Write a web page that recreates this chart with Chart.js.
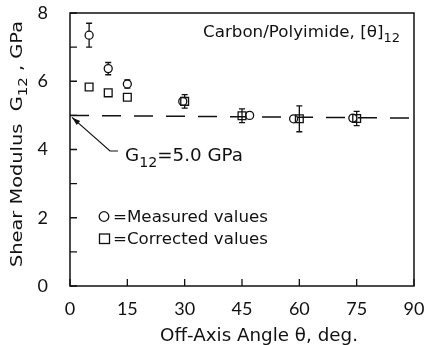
<!DOCTYPE html>
<html>
<head>
<meta charset="utf-8">
<script src="https://cdn.jsdelivr.net/npm/chart.js@4.4.1/dist/chart.umd.min.js"></script>
<style>
  html, body { margin: 0; padding: 0; background: #fff; }
  #wrap { width: 425px; height: 345px; }
</style>
</head>
<body>
<div id="wrap"><canvas id="shearChart"></canvas></div>
<script>
// data
var angleMeasured = [5, 10, 15, 29.5, 47, 58.5, 74];
var modulusMeasured = [7.35, 6.37, 5.92, 5.41, 5.0, 4.9, 4.92];
var errMeasured = [0.35, 0.18, 0.12, 0, 0, 0, 0];

var angleCorrected = [5, 10, 15, 30, 45, 60, 75];
var modulusCorrected = [5.83, 5.66, 5.53, 5.41, 4.99, 4.9, 4.91];
var errCorrected = [0, 0, 0, 0.2, 0.2, 0.38, 0.21];

var refAngles = [0, 90];
var refModulus = [5.0, 4.92];

var xTicks = [0, 15, 30, 45, 60, 75, 90];
var yTicks = [0, 1, 2, 3, 4, 5, 6, 7, 8];

var fontFam = 'Lato, "DejaVu Sans", sans-serif';
var noteFam = '"DejaVu Sans", sans-serif';
var ink = '#111';

function pts(xs, ys) {
    return xs.map(function (x, i) { return { x: x, y: ys[i] }; });
}

function runsWidth(ctx, runs, size) {
    var w = 0;
    runs.forEach(function (r) {
        ctx.font = (r.sub ? size * 0.78 : size) + 'px ' + noteFam;
        w += ctx.measureText(r.t).width;
    });
    return w;
}
// draws text pieces (some as subscripts), stretched to the width seen in the figure
function drawRuns(ctx, x, y, runs, size, targetW) {
    var sx = targetW ? targetW / runsWidth(ctx, runs, size) : 1;
    ctx.save();
    ctx.translate(x, y);
    ctx.scale(sx, 1);
    var cx = 0;
    runs.forEach(function (r) {
        var fs = r.sub ? size * 0.78 : size;
        ctx.font = fs + 'px ' + noteFam;
        ctx.fillText(r.t, cx, r.sub ? size * 0.33 : 0);
        cx += ctx.measureText(r.t).width;
    });
    ctx.restore();
}

var errorBars = {
    id: 'errorBars',
    beforeDatasetsDraw: function (chart) {
        var ctx = chart.ctx, xs = chart.scales.x, ys = chart.scales.y;
        ctx.save();
        ctx.strokeStyle = ink;
        ctx.lineWidth = 1.3;
        [[angleMeasured, modulusMeasured, errMeasured], [angleCorrected, modulusCorrected, errCorrected]].forEach(function (s) {
            s[0].forEach(function (a, i) {
                var e = s[2][i];
                if (!e) return;
                var px = xs.getPixelForValue(a);
                var top = ys.getPixelForValue(s[1][i] + e);
                var bot = ys.getPixelForValue(s[1][i] - e);
                ctx.beginPath();
                ctx.moveTo(px, top); ctx.lineTo(px, bot);
                ctx.moveTo(px - 3, top); ctx.lineTo(px + 3, top);
                ctx.moveTo(px - 3, bot); ctx.lineTo(px + 3, bot);
                ctx.stroke();
            });
        });
        ctx.restore();
    }
};

var frameAndNotes = {
    id: 'frameAndNotes',
    afterDraw: function (chart) {
        var ctx = chart.ctx, a = chart.chartArea, xs = chart.scales.x, ys = chart.scales.y;
        ctx.save();
        ctx.strokeStyle = ink;
        ctx.fillStyle = ink;
        ctx.lineWidth = 1.5;
        ctx.strokeRect(a.left, a.top, a.right - a.left, a.bottom - a.top);

        // inward ticks
        ctx.lineWidth = 1.3;
        ctx.beginPath();
        xTicks.forEach(function (t) {
            var px = xs.getPixelForValue(t);
            ctx.moveTo(px, a.bottom); ctx.lineTo(px, a.bottom - 7);
        });
        yTicks.forEach(function (t) {
            var py = ys.getPixelForValue(t);
            ctx.moveTo(a.left, py); ctx.lineTo(a.left + 7, py);
        });
        ctx.stroke();

        ctx.textBaseline = 'alphabetic';
        ctx.textAlign = 'left';

        // title inside the plot
        drawRuns(ctx, 203, 37, [{ t: 'Carbon/Polyimide, [θ]' }, { t: '12', sub: true }], 16.5, 197);

        // reference line note with arrow
        var tipX = xs.getPixelForValue(0) + 2, tipY = ys.getPixelForValue(5.0) + 2;
        ctx.lineWidth = 1.2;
        ctx.beginPath();
        ctx.moveTo(tipX, tipY);
        ctx.lineTo(110, 151);
        ctx.lineTo(118, 151);
        ctx.stroke();
        var ang = Math.atan2(151 - tipY, 110 - tipX);
        ctx.beginPath();
        ctx.moveTo(tipX, tipY);
        ctx.lineTo(tipX + 9 * Math.cos(ang - 0.3), tipY + 9 * Math.sin(ang - 0.3));
        ctx.lineTo(tipX + 9 * Math.cos(ang + 0.3), tipY + 9 * Math.sin(ang + 0.3));
        ctx.closePath();
        ctx.fill();
        drawRuns(ctx, 125, 161, [{ t: 'G' }, { t: '12', sub: true }, { t: '=5.0 GPa' }], 17, 118);

        // key
        ctx.lineWidth = 1.3;
        ctx.beginPath();
        ctx.arc(104, 216.5, 4.8, 0, Math.PI * 2);
        ctx.stroke();
        ctx.strokeRect(99.5, 234, 10, 9.5);
        drawRuns(ctx, 113, 222, [{ t: '=Measured values' }], 16.5, 155);
        drawRuns(ctx, 113, 244, [{ t: '=Corrected values' }], 16.5, 155);

        // axis titles
        drawRuns(ctx, 160, 341, [{ t: 'Off-Axis Angle θ, deg.' }], 17, 198);
        ctx.translate(22, 144);
        ctx.rotate(-Math.PI / 2);
        drawRuns(ctx, -123, 0, [{ t: 'Shear Modulus  G' }, { t: '12', sub: true }, { t: ' , GPa' }], 16.5, 246);
        ctx.restore();
    }
};

var ctx = document.getElementById('shearChart').getContext('2d');
new Chart(ctx, {
    type: 'scatter',
    data: {
        datasets: [{
            label: 'G12 = 5.0 GPa',
            type: 'line',
            data: pts(refAngles, refModulus),
            borderColor: ink,
            borderWidth: 1.5,
            borderDash: [19, 13],
            pointRadius: 0,
            fill: false,
            order: 3
        }, {
            label: 'Measured values',
            data: pts(angleMeasured, modulusMeasured),
            pointStyle: 'circle',
            pointRadius: 4,
            pointBorderWidth: 1.3,
            pointBorderColor: ink,
            pointBackgroundColor: '#fff',
            order: 2
        }, {
            label: 'Corrected values',
            data: pts(angleCorrected, modulusCorrected),
            pointStyle: 'rect',
            pointRadius: 5.5,
            pointBorderWidth: 1.3,
            pointBorderColor: ink,
            pointBackgroundColor: 'rgba(255,255,255,0)',
            order: 1
        }]
    },
    options: {
        responsive: true,
        maintainAspectRatio: false,
        animation: false,
        layout: { padding: { top: 13, right: 11, left: 0, bottom: 0 } },
        plugins: {
            legend: { display: false },
            tooltip: { enabled: false }
        },
        scales: {
            x: {
                type: 'linear',
                min: 0,
                max: 90,
                grid: { display: false },
                border: { display: false },
                ticks: {
                    stepSize: 15,
                    padding: 4,
                    color: ink,
                    font: { family: fontFam, size: 18 }
                },
                afterFit: function (s) { s.height = 59; s.paddingLeft = 0; s.paddingRight = 0; }
            },
            y: {
                min: 0,
                max: 8,
                grid: { display: false },
                border: { display: false },
                ticks: {
                    stepSize: 1,
                    padding: 14,
                    color: ink,
                    font: { family: fontFam, size: 18 },
                    callback: function (v) { return v % 2 === 0 ? v : ''; }
                },
                afterFit: function (s) { s.width = 70; s.paddingTop = 0; s.paddingBottom = 0; }
            }
        }
    },
    plugins: [errorBars, frameAndNotes]
});
</script>
</body>
</html>
